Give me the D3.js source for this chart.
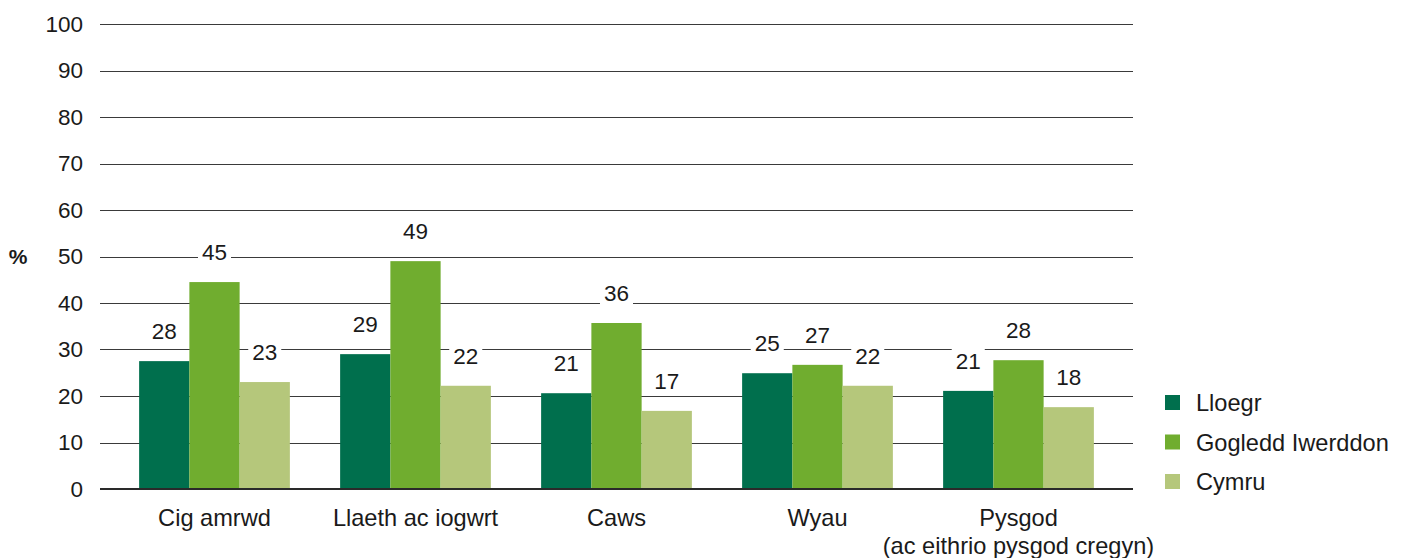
<!DOCTYPE html>
<html>
<head>
<meta charset="utf-8">
<script src="https://d3js.org/d3.v7.min.js"></script>
<style>
  html, body { margin: 0; padding: 0; background: #fff; }
  svg { display: block; font-family: "Liberation Sans", Arial, sans-serif; }
</style>
</head>
<body>
<svg id="chart" width="1406" height="558"></svg>
<script>
// ── Data ──
const categories = ['Cig amrwd', 'Llaeth ac iogwrt', 'Caws', 'Wyau', 'Pysgod\n(ac eithrio pysgod cregyn)'];
const seriesNames = ['Lloegr', 'Gogledd Iwerddon', 'Cymru'];
const lloegr = [27.5, 29, 20.6, 24.9, 21.1];
const gogledd = [44.5, 49, 35.7, 26.7, 27.7];
const cymru = [23, 22.2, 16.8, 22.2, 17.6];
const labelsLloegr = [28, 29, 21, 25, 21];
const labelsGogledd = [45, 49, 36, 27, 28];
const labelsCymru = [23, 22, 17, 22, 18];
const yTicks = [0, 10, 20, 30, 40, 50, 60, 70, 80, 90, 100];
const colors = ['#006f4d', '#70ad2f', '#b5c77b'];

const series = [
  { name: seriesNames[0], values: lloegr, labels: labelsLloegr },
  { name: seriesNames[1], values: gogledd, labels: labelsGogledd },
  { name: seriesNames[2], values: cymru, labels: labelsCymru },
];

const NUM_FONT = '22.5px';   // numbers
const TXT_FONT = '23.6px';   // words
const svg = d3.select('#chart');
const gridLeft = 100, gridRight = 1133;

const y = d3.scaleLinear().domain([0, 100]).range([489, 24]);
const x0 = d3.scaleBand().domain(categories).range([114, 1119]).paddingInner(0.25).paddingOuter(0.125);
const x1 = d3.scaleBand().domain(seriesNames).range([0, x0.bandwidth()]);

// Gridlines
svg.append('g').selectAll('line').data(yTicks.filter(d => d > 0)).enter().append('line')
  .attr('x1', gridLeft).attr('x2', gridRight)
  .attr('y1', d => Math.round(y(d)) + 0.5).attr('y2', d => Math.round(y(d)) + 0.5)
  .attr('stroke', '#3a3a3a').attr('stroke-width', 1);

// Y axis labels
const yAxis = svg.append('g').attr('transform', `translate(${gridLeft},0)`)
  .call(d3.axisLeft(y).tickValues(yTicks).tickSize(0).tickPadding(17));
yAxis.select('.domain').remove();
yAxis.selectAll('text').attr('font-size', NUM_FONT).attr('fill', '#1a1a1a')
  .attr('font-family', '"Liberation Sans", Arial, sans-serif');

svg.append('text').attr('x', 18).attr('y', y(50)).attr('dy', '0.35em')
  .attr('text-anchor', 'middle').attr('font-size', '21px').attr('font-weight', '700')
  .attr('fill', '#1a1a1a').text('%');

// Bars
const groups = svg.append('g').selectAll('g').data(series).enter().append('g')
  .attr('fill', (d, i) => colors[i]);

groups.selectAll('rect').data(s => s.values.map((v, i) => ({ s: s.name, cat: categories[i], v })))
  .enter().append('rect')
  .attr('x', d => x0(d.cat) + x1(d.s))
  .attr('width', x1.bandwidth())
  .attr('y', d => y(d.v))
  .attr('height', d => y(0) - y(d.v));

// Zero axis line
svg.append('line').attr('x1', gridLeft).attr('x2', gridRight)
  .attr('y1', y(0)).attr('y2', y(0))
  .attr('stroke', '#2a2a2a').attr('stroke-width', 2);

// Value labels with white boxes
const lbl = svg.append('g');
series.forEach(s => {
  s.values.forEach((v, i) => {
    const cx = x0(categories[i]) + x1(s.name) + x1.bandwidth() / 2;
    const cy = y(v) - 30;
    const g = lbl.append('g');
    const t = g.append('text').attr('x', cx).attr('y', cy).attr('dy', '0.35em')
      .attr('text-anchor', 'middle').attr('font-size', NUM_FONT).attr('fill', '#1a1a1a')
      .text(s.labels[i]);
    const bb = t.node().getBBox();
    g.insert('rect', 'text').attr('x', bb.x - 4).attr('y', bb.y)
      .attr('width', bb.width + 8).attr('height', bb.height).attr('fill', '#fff');
  });
});

// Category labels
svg.append('g').selectAll('text').data(categories).enter().append('text')
  .attr('x', d => x0(d) + x0.bandwidth() / 2)
  .attr('y', 526)
  .attr('text-anchor', 'middle').attr('font-size', TXT_FONT).attr('fill', '#1a1a1a')
  .each(function(d) {
    const parts = d.split('\n');
    d3.select(this).selectAll('tspan').data(parts).enter().append('tspan')
      .attr('x', x0(d) + x0.bandwidth() / 2)
      .attr('dy', (p, j) => j === 0 ? 0 : 28)
      .text(p => p);
  });

// Legend
const legend = svg.append('g').attr('transform', 'translate(1165,403)');
const item = legend.selectAll('g').data(seriesNames).enter().append('g')
  .attr('transform', (d, i) => `translate(0,${i * 39.5})`);
item.append('rect').attr('x', 0).attr('y', -8).attr('width', 15).attr('height', 15)
  .attr('fill', (d, i) => colors[i]);
item.append('text').attr('x', 31).attr('y', 0).attr('dy', '0.35em')
  .attr('font-size', TXT_FONT).attr('fill', '#1a1a1a').text(d => d);
</script>
</body>
</html>
